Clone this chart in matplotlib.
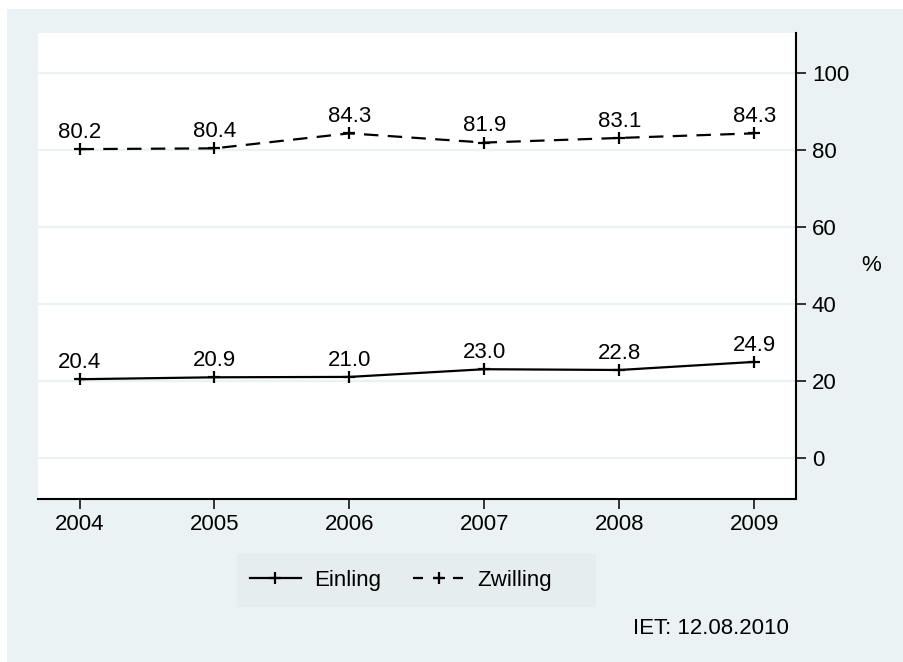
import matplotlib
matplotlib.use("Agg")
import matplotlib.pyplot as plt
from matplotlib.patches import Rectangle
from matplotlib.lines import Line2D

years = [2004, 2005, 2006, 2007, 2008, 2009]
einling = [20.4, 20.9, 21.0, 23.0, 22.8, 24.9]
zwilling = [80.2, 80.4, 84.3, 81.9, 83.1, 84.3]
yticks = [0, 20, 40, 60, 80, 100]
series_names = ["Einling", "Zwilling"]
note = "IET: 12.08.2010"

plt.rcParams['font.family'] = ['Liberation Sans', 'DejaVu Sans']
FS = 16
BG = '#EAF2F3'
W, H = 904, 662

fig = plt.figure(figsize=(W / 100, H / 100), dpi=100)
fig.patch.set_facecolor('white')
fig.patches.append(Rectangle((7 / W, -0.05), 1.1, 1.05 - 9 / H, transform=fig.transFigure,
                             facecolor=BG, edgecolor='none', zorder=-10))

ax = fig.add_axes([37.7 / W, 1 - 498.5 / H, (796 - 37.7) / W, (498.5 - 33.3) / H])
ax.set_facecolor('white')
ax.set_xlim(2003.69, 2009.31)
ax.set_ylim(-10.6, 110.3)

for v in yticks:
    ax.axhline(v, color=BG, lw=1.6, zorder=0)

lw = 1.6
dash = (0, (6.5, 4.2))
ax.plot(years, einling, color='black', lw=lw, marker='+', ms=8, mew=1.6, zorder=3)
ax.plot(years, zwilling, color='black', lw=lw, ls=dash, marker='+', ms=8, mew=1.6, zorder=3)

for x, y in zip(years, einling):
    ax.annotate(f"{y:.1f}", (x, y), xytext=(0, 8), textcoords='offset points',
                ha='center', va='baseline', fontsize=FS)
for x, y in zip(years, zwilling):
    ax.annotate(f"{y:.1f}", (x, y), xytext=(0, 8), textcoords='offset points',
                ha='center', va='baseline', fontsize=FS)

for s in ['left', 'top']:
    ax.spines[s].set_visible(False)
for s in ['right', 'bottom']:
    ax.spines[s].set_linewidth(1.5)
    ax.spines[s].set_color('black')

ax.yaxis.tick_right()
ax.yaxis.set_label_position('right')
ax.set_yticks(yticks)
ax.set_xticks(years)
ax.tick_params(axis='both', length=7.5, width=1.1, labelsize=FS, pad=4, color='black')
ax.set_ylabel('%', rotation=0, fontsize=FS, labelpad=16, va='center')

# legend box
lx0, lx1, ly0, ly1 = 237.5, 596, 554, 607
fig.patches.append(Rectangle((lx0 / W, 1 - ly1 / H), (lx1 - lx0) / W, (ly1 - ly0) / H,
                             transform=fig.transFigure, facecolor='#E6EDEF', edgecolor='none', zorder=-5))
handles = [Line2D([], [], color='black', lw=lw, marker='+', ms=8, mew=1.6),
           Line2D([], [], color='black', lw=lw, ls=(0, (4.5, 4.5)), marker='+', ms=8, mew=1.6)]
fig.legend(handles, series_names, loc='center', ncol=2, frameon=False, fontsize=FS,
           bbox_to_anchor=(401 / W, 1 - (ly0 + ly1) / 2 / H),
           handlelength=2.3, handletextpad=0.6, columnspacing=1.45, numpoints=1)

fig.text(789 / W, 1 - 628 / H, note, ha='right', va='center', fontsize=FS)

fig.savefig('out.png', dpi=100)
